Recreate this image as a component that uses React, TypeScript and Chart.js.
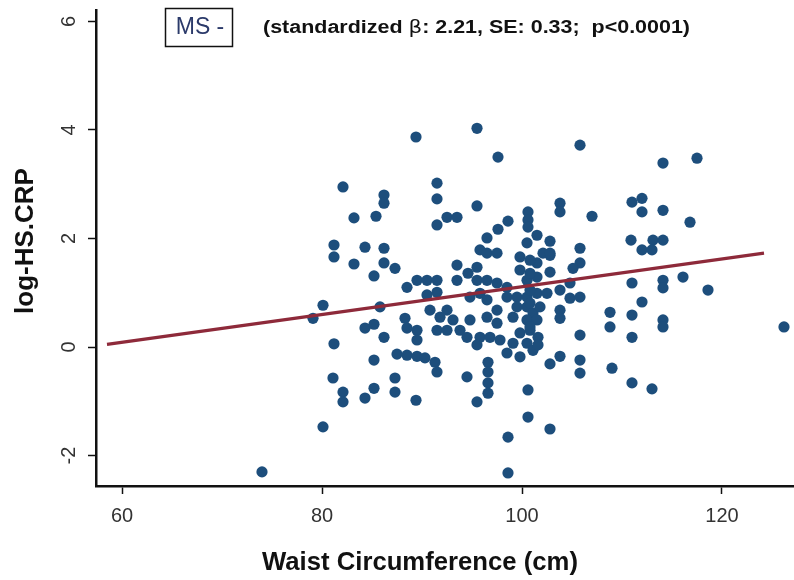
import React, { useEffect, useRef } from 'react';
import { Chart, registerables } from 'chart.js';
Chart.register(...registerables);

const waist = [
  82.1, 83.2, 85.4, 86.2, 86.2, 89.4, 95.5, 97.6, 91.5, 91.5,
  95.5, 92.5, 93.5, 91.5, 98.6, 97.6, 100.6, 100.6, 100.6, 96.5,
  101.5, 81.2, 81.2, 84.3, 86.2, 83.2, 86.2, 85.2, 80.1, 79.1,
  84.3, 85.2, 86.2, 81.2, 85.2, 87.3, 88.5, 89.5, 90.5, 91.5,
  91.5, 90.5, 93.5, 93.5, 94.6, 95.5, 95.8, 96.5, 97.5, 95.5,
  96.5, 97.5, 95.8, 94.8, 99.8, 100.5, 99.8, 100.5, 101.5, 101.5,
  98.5, 98.5, 99.5, 100.5, 101.5, 85.8, 88.3, 88.5, 89.5, 89.5,
  90.8, 91.8, 92.5, 93.1, 91.5, 92.5, 93.8, 94.5, 94.8, 96.5,
  97.5, 96.5, 97.5, 95.8, 96.8, 97.8, 95.5, 99.5, 100.5, 101.1,
  99.1, 100.5, 101.5, 99.8, 100.8, 99.1, 100.5, 87.5, 88.5, 89.5,
  98.5, 101.1, 81.1, 82.1, 82.1, 84.3, 85.2, 80.1, 74.0, 90.3,
  91.3, 91.5, 87.3, 87.3, 89.4, 94.5, 96.6, 96.6, 96.6, 96.6,
  95.5, 99.8, 100.6, 100.6, 98.6, 98.6, 105.8, 114.1, 103.8, 103.8,
  107.0, 111.0, 112.0, 112.0, 114.1, 116.8, 102.8, 110.9, 113.1, 114.1,
  102.8, 102.8, 105.8, 105.8, 105.1, 104.8, 112.0, 113.0, 102.1, 102.8,
  100.8, 100.8, 116.1, 111.0, 114.1, 114.1, 100.8, 102.5, 103.8, 104.8,
  105.8, 112.0, 103.8, 103.8, 100.8, 101.8, 108.8, 108.8, 111.0, 114.1,
  114.1, 105.8, 111.0, 100.8, 101.6, 101.6, 103.8, 105.8, 102.8, 105.8,
  109.0, 111.0, 113.0, 102.8, 117.5, 118.6, 126.2,
];

const logCrp = [
  2.95, 2.38, 2.41, 2.80, 2.65, 3.87, 4.03, 3.50, 3.02, 2.73,
  2.60, 2.39, 2.39, 2.25, 2.32, 2.17, 2.49, 2.34, 2.21, 2.01,
  2.06, 1.88, 1.66, 1.84, 1.82, 1.53, 1.55, 1.31, 0.77, 0.53,
  0.35, 0.42, 0.18, 0.06, -0.24, 1.45, 1.10, 1.23, 1.23, 1.23,
  1.01, 0.96, 1.51, 1.23, 1.36, 1.47, 1.79, 1.73, 1.73, 1.23,
  1.23, 1.18, 0.99, 0.92, 1.66, 1.92, 1.42, 1.23, 1.55, 1.29,
  1.10, 0.92, 0.92, 0.92, 0.99, 0.74, 0.53, 0.35, 0.31, 0.13,
  0.68, 0.55, 0.68, 0.50, 0.31, 0.31, 0.31, 0.18, 0.50, 0.87,
  0.68, 0.55, 0.44, 0.18, 0.18, 0.13, 0.04, 0.74, 0.74, 0.63,
  0.55, 0.50, 0.50, 0.26, 0.31, 0.07, 0.07, -0.13, -0.15, -0.17,
  -0.11, -0.06, -0.57, -0.83, -1.01, -0.94, -0.76, -1.47, -2.30, -0.20,
  -0.28, -0.46, -0.57, -0.83, -0.98, -0.55, -0.28, -0.46, -0.66, -0.85,
  -1.01, -0.18, -0.79, -1.29, -1.66, -2.32, 3.72, 3.39, 2.65, 2.49,
  2.41, 2.67, 2.74, 2.49, 2.52, 2.30, 1.95, 1.97, 1.97, 1.97,
  1.69, 1.38, 1.82, 1.55, 1.45, 1.18, 1.79, 1.79, 1.73, 1.73,
  1.60, 1.36, 1.29, 1.18, 1.23, 1.09, 1.05, 0.99, 1.05, 0.90,
  0.92, 0.83, 0.68, 0.53, 0.81, 0.74, 0.64, 0.37, 0.59, 0.50,
  0.37, 0.22, 0.18, 0.37, 0.18, 0.04, -0.17, -0.24, -0.31, -0.48,
  -0.39, -0.66, -0.77, -1.51, 3.48, 1.05, 0.37,
];

const fitX = [58.5, 124.2];
const fitY = [0.05, 1.73];

const xTickValues = [60, 80, 100, 120];
const yTickValues = [-2, 0, 2, 4, 6];

const xTitle = 'Waist Circumference (cm)';
const yTitle = 'log-HS.CRP';
const groupLabel = 'MS -';
const statsBefore = '(standardized ';
const statsBeta = 'β';
const statsAfter = ': 2.21, SE: 0.33;  p<0.0001)';

const FONT = '"Liberation Sans", Arial, Helvetica, sans-serif';
const BOLD18 = `bold 18px "Liberation Sans", Arial, sans-serif`;
const BETA18 = `18px "DejaVu Sans", "Liberation Sans", sans-serif`;

function fitText(ctx: any, text: string, x: number, y: number, width: number) {
  const w = ctx.measureText(text).width;
  ctx.save();
  ctx.translate(x, y);
  ctx.scale(width / w, 1);
  ctx.fillText(text, 0, 0);
  ctx.restore();
}

const textPlugin = {
  id: 'stataText',
  afterDraw(chart: any) {
    const ctx = chart.ctx;
    const yScale = chart.scales.y;
    const xScale = chart.scales.x;
    ctx.save();
    ctx.fillStyle = '#333';
    ctx.font = `20px ${FONT}`;
    ctx.textAlign = 'center';
    ctx.textBaseline = 'middle';
    // x tick labels
    xTickValues.forEach((v) => {
      ctx.fillText(String(v), xScale.getPixelForValue(v), 516);
    });
    // y tick labels, rotated
    yTickValues.forEach((v) => {
      const py = yScale.getPixelForValue(v);
      ctx.save();
      ctx.translate(69, py);
      ctx.rotate(-Math.PI / 2);
      ctx.fillText(String(v), 0, 0);
      ctx.restore();
    });
    // y title
    ctx.fillStyle = '#111';
    ctx.font = `bold 26px ${FONT}`;
    ctx.save();
    ctx.translate(26, 241);
    ctx.rotate(-Math.PI / 2);
    ctx.fillText(yTitle, 0, 0);
    ctx.restore();
    // x title
    ctx.textAlign = 'left';
    ctx.font = `bold 25px ${FONT}`;
    fitText(ctx, xTitle, 262, 563, 316);
    // group box
    ctx.strokeStyle = '#111';
    ctx.lineWidth = 1.5;
    ctx.strokeRect(165.5, 8.5, 67, 38);
    ctx.fillStyle = '#2b3a6a';
    ctx.textAlign = 'center';
    ctx.font = `23px ${FONT}`;
    ctx.fillText(groupLabel, 200, 28);
    // stats text, stretched to span the reference width
    ctx.textAlign = 'left';
    ctx.fillStyle = '#111';
    ctx.font = BOLD18;
    const w1 = ctx.measureText(statsBefore).width;
    const w3 = ctx.measureText(statsAfter).width;
    ctx.font = BETA18;
    const w2 = ctx.measureText(statsBeta).width;
    const sx = 427 / (w1 + w2 + w3);
    ctx.save();
    ctx.translate(263, 28);
    ctx.scale(sx, 1);
    ctx.font = BOLD18;
    ctx.fillText(statsBefore, 0, 0);
    ctx.font = BETA18;
    ctx.fillText(statsBeta, w1, 0);
    ctx.font = BOLD18;
    ctx.fillText(statsAfter, w1 + w2, 0);
    ctx.restore();
    ctx.restore();
  },
};

export default function App() {
  const ref = useRef<HTMLCanvasElement | null>(null);
  useEffect(() => {
    if (!ref.current) return;
    const chart = new Chart(ref.current, {
      type: 'scatter',
      data: {
        datasets: [
          {
            type: 'line',
            data: fitX.map((x, i) => ({ x, y: fitY[i] })),
            borderColor: '#8e2a3a',
            borderWidth: 3.2,
            pointRadius: 0,
            fill: false,
            order: 0,
          } as any,
          {
            type: 'scatter',
            data: waist.map((x, i) => ({ x, y: logCrp[i] })),
            backgroundColor: '#1d4e7c',
            borderWidth: 0,
            pointRadius: 5.6,
            order: 1,
          },
        ],
      },
      plugins: [textPlugin],
      options: {
        responsive: false,
        animation: false,
        layout: { autoPadding: false, padding: { top: 10, left: 0, right: 0, bottom: 0 } },
        plugins: { legend: { display: false }, tooltip: { enabled: false } },
        scales: {
          x: {
            type: 'linear',
            min: 57.4,
            max: 127.2,
            afterBuildTicks: (s: any) => {
              s.ticks = xTickValues.map((v) => ({ value: v }));
            },
            afterFit: (s: any) => {
              s.height = 94;
            },
            grid: { drawOnChartArea: false, drawTicks: true, tickLength: 8, tickWidth: 1.5, tickColor: '#111' },
            border: { display: true, color: '#111', width: 2.5 },
            ticks: { display: false },
          },
          y: {
            type: 'linear',
            min: -2.56,
            max: 6.21,
            afterBuildTicks: (s: any) => {
              s.ticks = yTickValues.map((v) => ({ value: v }));
            },
            afterFit: (s: any) => {
              s.width = 96;
            },
            grid: { drawOnChartArea: false, drawTicks: true, tickLength: 8, tickWidth: 1.5, tickColor: '#111' },
            border: { display: true, color: '#111', width: 2.5 },
            ticks: { display: false },
          },
        },
      },
    });
    return () => chart.destroy();
  }, []);
  return (
    <div style={{ position: 'absolute', left: 0, top: 0, width: 794, height: 580, background: '#fff', overflow: 'hidden' }}>
      <canvas ref={ref} width={794} height={580} />
    </div>
  );
}
